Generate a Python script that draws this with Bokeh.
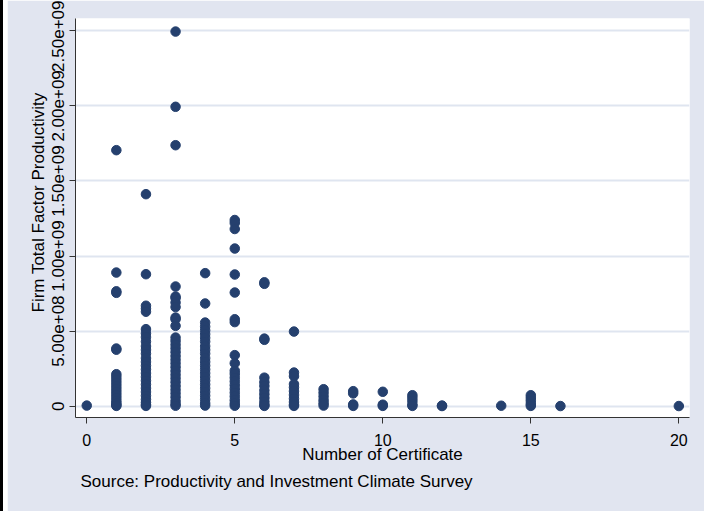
from bokeh.plotting import figure
from bokeh.models import FixedTicker, Range1d, Title, ColumnDataSource, Div
from bokeh.layouts import row
from bokeh.embed import file_html
from bokeh.resources import INLINE

# Firm total factor productivity, grouped by number of certificates
tfp_0 = [4e6]
tfp_1 = [1.705e9, 8.9e8, 7.65e8, 7.55e8, 3.84e8, 3.76e8, 2.13e8, 1.95e8, 1.75e8,
         1.55e8, 1.35e8, 1.15e8, 9.5e7, 7.5e7, 5.5e7, 3.5e7, 2e7, 8e6, 2e6]
tfp_2 = [1.412e9, 8.79e8, 6.69e8, 6.5e8, 6.29e8, 5.13e8, 4.85e8, 4.6e8, 4.3e8,
         4.0e8, 3.75e8, 3.5e8, 3.2e8, 2.95e8, 2.7e8, 2.45e8, 2.2e8, 1.95e8,
         1.7e8, 1.45e8, 1.2e8, 9.5e7, 7e7, 4.5e7, 2.5e7, 1e7, 2e6]
tfp_3 = [2.495e9, 1.994e9, 1.738e9, 7.97e8, 7.3e8, 7.2e8, 6.9e8, 6.6e8, 5.9e8,
         5.79e8, 5.35e8, 4.57e8, 4.35e8, 4.1e8, 3.85e8, 3.6e8, 3.35e8, 3.1e8,
         2.85e8, 2.6e8, 2.35e8, 2.1e8, 1.85e8, 1.6e8, 1.35e8, 1.1e8, 8.5e7,
         6e7, 3.5e7, 1.5e7, 3e6]
tfp_4 = [8.86e8, 6.84e8, 5.57e8, 5.3e8, 5.05e8, 4.8e8, 4.55e8, 4.3e8, 4.0e8,
         3.75e8, 3.5e8, 3.2e8, 2.95e8, 2.7e8, 2.45e8, 2.2e8, 1.95e8, 1.7e8,
         1.45e8, 1.2e8, 9.5e7, 7e7, 4.5e7, 2e7, 4e6]
tfp_5 = [1.24e9, 1.22e9, 1.18e9, 1.05e9, 8.77e8, 7.57e8, 5.79e8, 5.6e8, 3.4e8,
         2.86e8, 2.36e8, 2.15e8, 1.9e8, 1.65e8, 1.4e8, 1.15e8, 9e7, 6.5e7,
         4e7, 1.8e7, 3e6]
tfp_6 = [8.25e8, 8.15e8, 4.5e8, 4.42e8, 1.9e8, 1.6e8, 1.35e8, 1.05e8, 8e7,
         5.5e7, 3e7, 1e7, 2e6]
tfp_7 = [4.97e8, 2.24e8, 2.0e8, 1.47e8, 1.25e8, 1e8, 7.5e7, 5e7, 2.8e7, 1e7, 2e6]
tfp_8 = [1.13e8, 9e7, 6.5e7, 4e7, 2e7, 4e6]
tfp_9 = [1.0e8, 8.5e7, 1.2e7, 2e6]
tfp_10 = [9.6e7, 1e7, 2e6]
tfp_11 = [7.3e7, 5.5e7, 3.5e7, 1.2e7, 2e6]
tfp_12 = [4e6, 1e6]
tfp_14 = [3e6]
tfp_15 = [7.3e7, 5.5e7, 3.6e7, 1.5e7, 2e6]
tfp_16 = [1e6]
tfp_20 = [1e6]

certificates = [0, 1, 2, 3, 4, 5, 6, 7, 8, 9, 10, 11, 12, 14, 15, 16, 20]
groups = [tfp_0, tfp_1, tfp_2, tfp_3, tfp_4, tfp_5, tfp_6, tfp_7, tfp_8, tfp_9,
          tfp_10, tfp_11, tfp_12, tfp_14, tfp_15, tfp_16, tfp_20]

x_ticks = [0, 5, 10, 15, 20]
y_ticks = [0, 5e8, 1e9, 1.5e9, 2e9, 2.5e9]
y_tick_labels = ["0", "5.00e+08", "1.00e+09", "1.50e+09", "2.00e+09", "2.50e+09"]

xs, ys = [], []
for c, g in zip(certificates, groups):
    xs += [c] * len(g)
    ys += g
src = ColumnDataSource(dict(x=xs, y=ys))

FONT = "Liberation Sans"
BG = "#e1e5f0"
NAVY = "#25406e"

p = figure(width=697, height=511, output_backend="svg", toolbar_location=None,
           x_range=Range1d(-0.38, 20.36), y_range=Range1d(-7.53e7, 2.582e9),
           min_border_left=68, min_border_right=15, min_border_top=18,
           min_border_bottom=94, margin=0)
p.border_fill_color = BG
p.background_fill_color = "white"
p.outline_line_color = None

p.scatter("x", "y", source=src, size=9.5, color=NAVY)

p.xgrid.grid_line_color = None
p.ygrid.grid_line_color = "#dfe5f0"
p.ygrid.grid_line_width = 2
p.ygrid.ticker = FixedTicker(ticks=y_ticks)

p.xaxis.ticker = FixedTicker(ticks=x_ticks)
p.yaxis.ticker = FixedTicker(ticks=y_ticks)
p.yaxis.major_label_overrides = {t: l for t, l in zip(y_ticks, y_tick_labels)}
p.yaxis.major_label_orientation = "vertical"

for ax in (p.xaxis[0], p.yaxis[0]):
    ax.axis_line_color = "#333333"
    ax.major_tick_line_color = "#333333"
    ax.major_tick_out = 6
    ax.major_tick_in = 0
    ax.minor_tick_line_color = None
    ax.major_label_text_font = FONT
    ax.major_label_text_color = "black"
    ax.axis_label_text_font = FONT
    ax.axis_label_text_font_size = "17px"
    ax.axis_label_text_font_style = "normal"
    ax.axis_label_text_color = "black"

p.xaxis.major_label_text_font_size = "16px"
p.yaxis.major_label_text_font_size = "17px"
p.xaxis.axis_label = "Number of Certificate"
p.xaxis.major_label_standoff = 10
p.xaxis.axis_label_standoff = -4
p.yaxis.major_label_standoff = 5

p.add_layout(Title(text="Firm Total Factor Productivity", align="left",
                   offset=105, standoff=4, text_font=FONT,
                   text_font_size="17px", text_font_style="normal",
                   text_color="black"), "left")
p.add_layout(Title(text="Source: Productivity and Investment Climate Survey",
                   align="left", offset=5, standoff=7, text_font=FONT,
                   text_font_size="17px", text_font_style="normal",
                   text_color="black"), "below")

edge = Div(width=3, height=511, margin=0, styles={"background-color": "black"})
gap = Div(width=4, height=511, margin=0, styles={"background-color": "white"})

layout = row(edge, gap, p, spacing=0)
open("out.html", "w").write(file_html(layout, INLINE))
